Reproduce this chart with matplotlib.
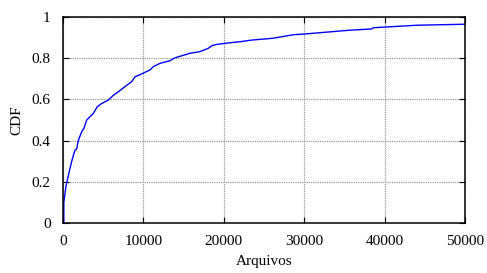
import matplotlib
matplotlib.use("Agg")
import matplotlib.pyplot as plt

# --- DATA ---
arquivos = [0, 100, 100, 370, 660, 1080, 1490, 1700, 1900, 2320, 2610, 2950,
	3360, 3770, 4270, 4810, 5640, 6260, 6880, 7710, 8540, 8960, 9580,
	10820, 11230, 12060, 13310, 13930, 15800, 17040, 18070, 18500, 19120,
	20770, 22010, 23470, 26160, 28640, 29890, 34450, 35700, 38400, 38600,
	44000, 50000]
cdf = [0.0, 0.006, 0.10, 0.18, 0.23, 0.30, 0.354, 0.36, 0.40, 0.443, 0.46, 0.50,
	0.516, 0.532, 0.565, 0.58, 0.597, 0.62, 0.637, 0.662, 0.686, 0.71, 0.72,
	0.743, 0.759, 0.775, 0.788, 0.802, 0.824, 0.832, 0.848, 0.861, 0.867,
	0.875, 0.88, 0.888, 0.897, 0.914, 0.917, 0.932, 0.936, 0.942, 0.948,
	0.96, 0.965]
x_ticks = [0, 10000, 20000, 30000, 40000, 50000]
y_ticks = [0, 0.2, 0.4, 0.6, 0.8, 1]
y_labels = ["0", "0.2", "0.4", "0.6", "0.8", "1"]

plt.rcParams["font.family"] = ["Liberation Serif", "DejaVu Serif"]
plt.rcParams["font.size"] = 11

fig = plt.figure(figsize=(4.87, 2.73), dpi=100)
ax = fig.add_axes([0.1294, 0.1832, 0.8254, 0.7545])

ax.plot(arquivos, cdf, color="#0000ff", linewidth=1.0)

ax.set_xlim(0, 50000)
ax.set_ylim(0, 1)
ax.set_xticks(x_ticks)
ax.set_xticklabels([str(t) for t in x_ticks])
ax.set_yticks(y_ticks)
ax.set_yticklabels(y_labels)
ax.tick_params(direction="in", top=True, right=True, length=4, width=0.8,
	labelsize=11)
ax.tick_params(axis="x", pad=9)
ax.tick_params(axis="y", pad=9)
ax.grid(True, color="#999999", linestyle=(0, (1, 0.8)), linewidth=0.9)
for s in ax.spines.values():
	s.set_linewidth(1.1)

ax.set_xlabel("Arquivos", fontsize=11, labelpad=5)
ax.set_ylabel("CDF", fontsize=11, labelpad=6)

fig.savefig("out.png", dpi=100)
